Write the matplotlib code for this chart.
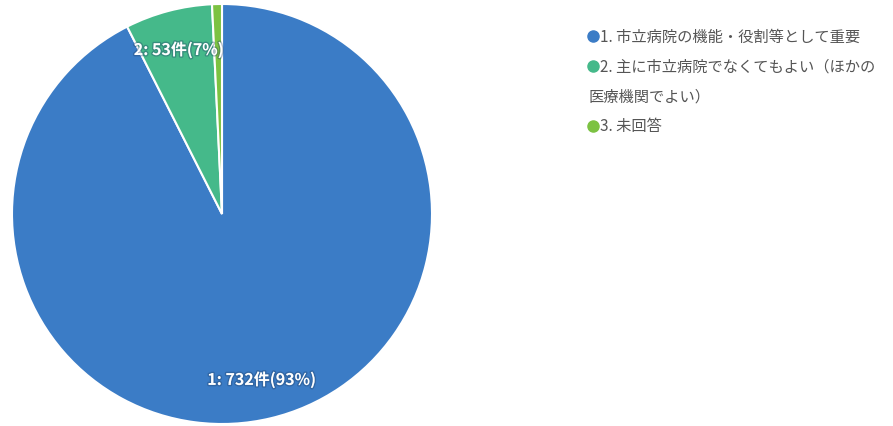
import matplotlib
matplotlib.use("Agg")
import matplotlib.pyplot as plt
import matplotlib.patheffects as pe
from matplotlib.lines import Line2D

plt.rcParams['font.family'] = ['Noto Sans CJK JP', 'DejaVu Sans']

categories = ["1. 市立病院の機能・役割等として重要",
              "2. 主に市立病院でなくてもよい（ほかの\n医療機関でよい）",
              "3. 未回答"]
counts = [732, 53, 6]
slice_labels = ["1: 732件(93%)", "2: 53件(7%)", ""]
colors = ["#3b7cc6", "#45b98a", "#7cc242"]

fig = plt.figure(figsize=(8.93, 4.27), dpi=100)
ax = fig.add_axes([12 / 893, 2 / 427, 420 / 893, 420 / 427])

wedges, texts = ax.pie(counts, labels=slice_labels, colors=colors,
                       startangle=90, counterclock=False,
                       labeldistance=0.81,
                       wedgeprops=dict(edgecolor="white", linewidth=1.5),
                       textprops=dict(color="white", fontsize=11.5, fontweight="bold",
                                      ha="center", va="center"))
for t in texts:
    t.set_horizontalalignment("center")
    t.set_path_effects([pe.withStroke(linewidth=2, foreground="#1f3f66", alpha=0.35)])
ax.set_xlim(-1, 1)
ax.set_ylim(-1, 1)
ax.set_aspect("equal")

# legend drawn by hand so the wrapped line starts at the marker
W, H = 893, 427
rows_y = [37, 67, 127]
for name, col, y in zip(categories, colors, rows_y):
    fig.add_artist(Line2D([593 / W], [1 - y / H], marker="o", markersize=8,
                          color=col, transform=fig.transFigure))
    lines = name.split("\n")
    fig.text(600 / W, 1 - y / H, lines[0], fontsize=11, color="#555555",
             va="center", ha="left")
    for k, extra in enumerate(lines[1:], start=1):
        fig.text(588 / W, 1 - (y + 30 * k) / H, extra, fontsize=11,
                 color="#555555", va="center", ha="left")

fig.savefig("out.png", dpi=100)
